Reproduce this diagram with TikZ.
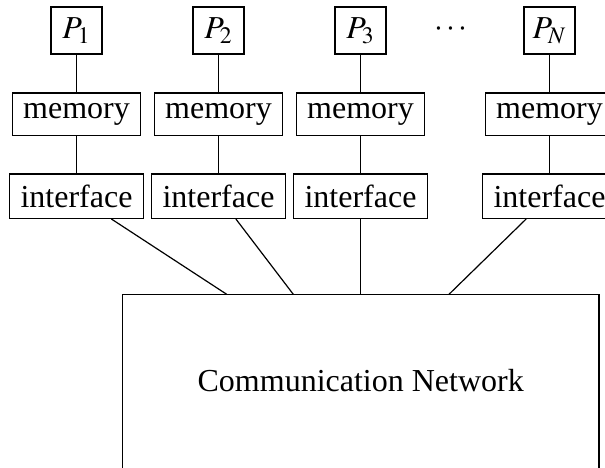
\documentclass[tikz,border=0pt]{standalone}
\usepackage{mathptmx}
\usepackage{fontspec}
\setmainfont{Liberation Serif}
\begin{document}
\begin{tikzpicture}[x=0.5pt,y=-0.5pt,
  every node/.style={font=\fontsize{16}{19}\selectfont},
  box/.style={draw,line width=0.6pt,inner sep=0pt,align=center},
  pbox/.style={box,minimum width=25.5pt,minimum height=23.5pt},
  membox/.style={box,minimum width=64pt,minimum height=21.35pt},
  ifbox/.style={box,minimum width=66.7pt,minimum height=22.2pt},
  netbox/.style={box,minimum width=238.3pt,minimum height=100pt},
  link/.style={line width=0.6pt}]
\clip (0,0) rectangle (605,467);
% processors
\node[pbox] (p1) at (76.5,30.5) {$P_1$};
\node[pbox] (p2) at (218.5,30.5) {$P_2$};
\node[pbox] (p3) at (360.5,30.5) {$P_3$};
\node[pbox] (pn) at (549.5,30.5) {$P_N$};
\node (dots) at (451,30) {$\cdots$};
% memories
\node[membox] (m1) at (76.5,114.3) {memory};
\node[membox] (m2) at (218.5,114.3) {memory};
\node[membox] (m3) at (360.5,114.3) {memory};
\node[membox] (mn) at (549.5,114.3) {memory};
% interfaces
\node[ifbox] (i1) at (76.5,196.2) {interface};
\node[ifbox] (i2) at (218.5,196.2) {interface};
\node[ifbox] (i3) at (360.5,196.2) {interface};
\node[ifbox] (in) at (549.5,196.2) {interface};
% network (its lower edge lies below the picture)
\node[netbox] (net) at (360.7,394.3) {};
\node (netlabel) at (360.7,381) {Communication Network};
\coordinate (c1) at (226.7,294.3);
\coordinate (c2) at (293.3,294.3);
\coordinate (c3) at (360.5,294.3);
\coordinate (cn) at (449,294.3);
% connectors
\foreach \a/\b in {p1/m1,m1/i1,p2/m2,m2/i2,p3/m3,m3/i3,pn/mn,mn/in}
  \draw[link] (\a) -- (\b);
\draw[link] (i1) -- (c1);
\draw[link] (i2) -- (c2);
\draw[link] (i3) -- (c3);
\draw[link] (in) -- (cn);
\end{tikzpicture}
\end{document}
